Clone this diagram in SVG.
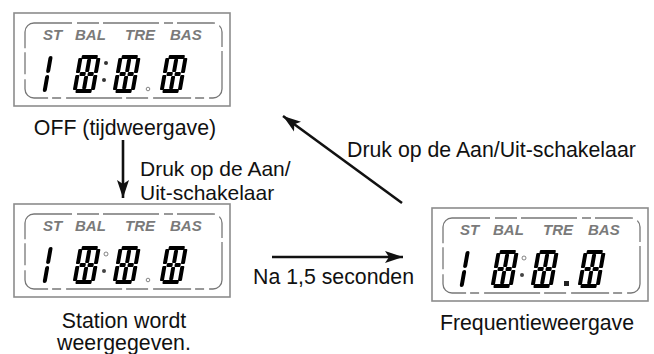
<svg xmlns="http://www.w3.org/2000/svg" xmlns:xlink="http://www.w3.org/1999/xlink" width="654" height="354" viewBox="0 0 654 354">
<style>
.lbl{font-family:"Liberation Sans",Arial,sans-serif;font-size:21.3px;fill:#111}
.lbl2{font-family:"Liberation Sans",Arial,sans-serif;font-size:21px;fill:#111}
.lcdlbl{font-family:"Liberation Sans",Arial,sans-serif;font-size:15px;font-style:italic;font-weight:bold;fill:#7a7a7a}
.frame{fill:#fff;stroke:#8c8c8c;stroke-width:1.6}
.inner{fill:none;stroke:#777;stroke-width:1.3;stroke-dasharray:38 5 22 4 56 5 9 4}
.off rect,.off path{fill:none;stroke:#a8a8a8;stroke-width:0.8}
.on rect,.on path{fill:#333;stroke:#fff;stroke-width:0.5}
.mid rect,.mid path{fill:#808080;stroke:#fff;stroke-width:0.5}
.conn{stroke:#111;stroke-width:2.6;fill:none}
</style>
<defs>
<marker id="ah" markerUnits="userSpaceOnUse" markerWidth="20" markerHeight="14" refX="18" refY="7" orient="auto">
<path d="M0,1 L18,7 L0,13 L4,7 Z" fill="#111"/>
</marker>
<g id="d8">
<rect x="3" y="0" width="16" height="4" rx="1"/>
<rect x="18" y="3" width="4" height="15" rx="1"/>
<rect x="18" y="20" width="4" height="15" rx="1"/>
<rect x="3" y="34" width="16" height="4" rx="1"/>
<rect x="0" y="20" width="4" height="15" rx="1"/>
<rect x="0" y="3" width="4" height="15" rx="1"/>
<rect x="4" y="17" width="6" height="4" rx="1"/>
<rect x="12" y="17" width="6" height="4" rx="1"/>
<rect x="9" y="4" width="4" height="13" rx="1"/>
<rect x="9" y="21" width="4" height="13" rx="1"/>
</g>
<g id="d1">
<rect x="0" y="1" width="4" height="17" rx="2"/>
<rect x="0" y="20" width="4" height="17" rx="2"/>
</g>
<g id="lcdbase">
<rect class="frame" x="0" y="0" width="216" height="93"/>
<rect class="inner" x="11" y="10" width="197" height="75" rx="9"/>
</g>
</defs>

<g id="lcd-off">
<use xlink:href="#lcdbase" transform="translate(14,13)"/>
<text class="lcdlbl" x="43" y="40">ST</text>
<text class="lcdlbl" x="75" y="40">BAL</text>
<text class="lcdlbl" x="125" y="40">TRE</text>
<text class="lcdlbl" x="170" y="40">BAS</text>
<use class="on" xlink:href="#d1" transform="translate(49,55) skewX(-10)"/>
<use class="mid" xlink:href="#d8" transform="translate(79,55) skewX(-10)"/>
<use class="on" xlink:href="#d8" transform="translate(119,55) skewX(-10)"/>
<use class="mid" xlink:href="#d8" transform="translate(166,55) skewX(-10)"/>
<circle cx="106" cy="63" r="2" fill="#333"/>
<circle cx="104" cy="80" r="2" fill="#333"/>
<circle cx="148" cy="89" r="1.8" fill="none" stroke="#666" stroke-width="0.8"/>
</g>

<g id="lcd-station">
<use xlink:href="#lcdbase" transform="translate(14,204)"/>
<text class="lcdlbl" x="43" y="231">ST</text>
<text class="lcdlbl" x="75" y="231">BAL</text>
<text class="lcdlbl" x="125" y="231">TRE</text>
<text class="lcdlbl" x="170" y="231">BAS</text>
<use class="off" xlink:href="#d1" transform="translate(49,246) skewX(-10)"/>
<use class="on" xlink:href="#d8" transform="translate(79,246) skewX(-10)"/>
<use class="on" xlink:href="#d8" transform="translate(119,246) skewX(-10)"/>
<use class="mid" xlink:href="#d8" transform="translate(166,246) skewX(-10)"/>
<circle cx="106" cy="254" r="2" fill="none" stroke="#666" stroke-width="0.8"/>
<circle cx="104" cy="271" r="2" fill="#444"/>
<circle cx="148" cy="280" r="1.8" fill="none" stroke="#666" stroke-width="0.8"/>
</g>

<g id="lcd-freq">
<use xlink:href="#lcdbase" transform="translate(432,208)"/>
<text class="lcdlbl" x="460" y="235">ST</text>
<text class="lcdlbl" x="493" y="235">BAL</text>
<text class="lcdlbl" x="543" y="235">TRE</text>
<text class="lcdlbl" x="588" y="235">BAS</text>
<use class="off" xlink:href="#d1" transform="translate(466,250) skewX(-10)"/>
<use class="mid" xlink:href="#d8" transform="translate(497,250) skewX(-10)"/>
<use class="on" xlink:href="#d8" transform="translate(537,250) skewX(-10)"/>
<use class="on" xlink:href="#d8" transform="translate(584,250) skewX(-10)"/>
<circle cx="524" cy="258" r="2" fill="none" stroke="#666" stroke-width="0.8"/>
<circle cx="522" cy="275" r="2" fill="#444"/>
<rect x="564" y="281" width="5" height="5" fill="#222"/>
</g>

<g id="connectors">
<line class="conn" x1="123" y1="140" x2="123" y2="198" marker-end="url(#ah)"/>
<line class="conn" x1="272" y1="257" x2="403" y2="257" marker-end="url(#ah)"/>
<line class="conn" x1="402" y1="203" x2="283" y2="116" marker-end="url(#ah)"/>
</g>

<g id="labels">
<text class="lbl" x="125" y="135" text-anchor="middle">OFF (tijdweergave)</text>
<text class="lbl2" x="140" y="176">Druk op de Aan/</text>
<text class="lbl2" x="140" y="199.5">Uit-schakelaar</text>
<text class="lbl" x="347" y="157">Druk op de Aan/Uit-schakelaar</text>
<text class="lbl" x="253" y="284">Na 1,5 seconden</text>
<text class="lbl" x="124" y="328" text-anchor="middle">Station wordt</text>
<text class="lbl" x="124" y="350" text-anchor="middle">weergegeven.</text>
<text class="lbl" x="537" y="330" text-anchor="middle">Frequentieweergave</text>
</g>
</svg>
